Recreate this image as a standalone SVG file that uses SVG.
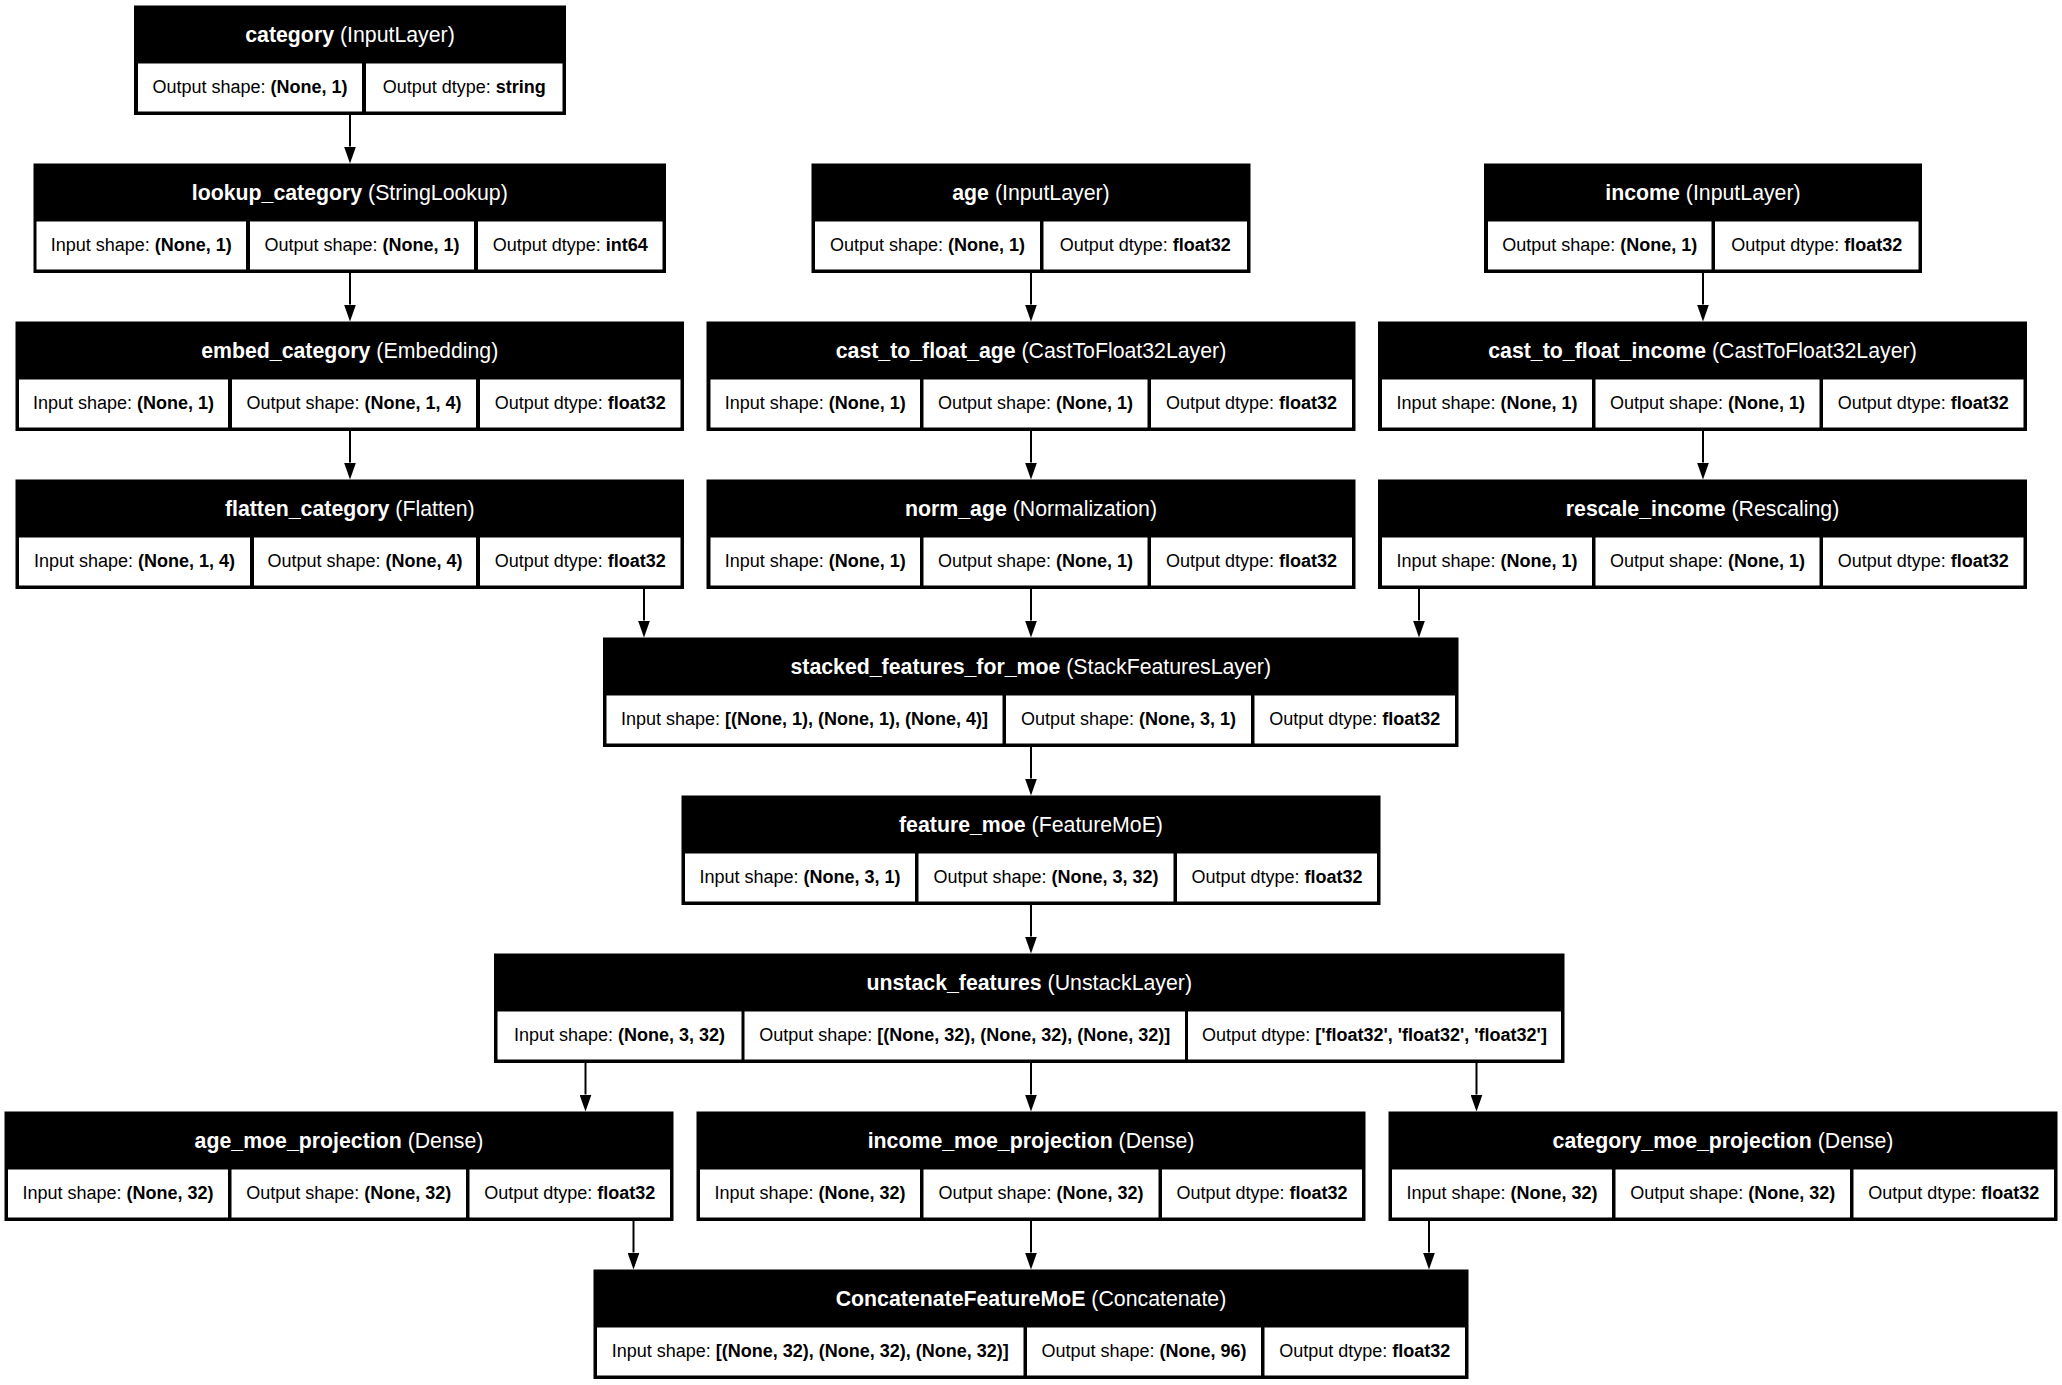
<svg xmlns="http://www.w3.org/2000/svg" width="2062" height="1385" viewBox="0 0 2062 1385">
<defs>
<style>
.bg{fill:#fff}
.box{fill:#000}
.cell{fill:#fff}
text{font-family:"Liberation Sans",Arial,Helvetica,sans-serif}
.t{font-size:21.3px;fill:#fff;text-anchor:middle}
.c{font-size:18px;fill:#000;text-anchor:middle}
.b{font-weight:bold}
.e{stroke:#000;stroke-width:2;fill:none;marker-end:url(#ah)}
</style>
<marker id="ah" viewBox="0 0 17 12" refX="0" refY="6" markerWidth="17" markerHeight="12" markerUnits="userSpaceOnUse" orient="auto">
<path d="M0,0 L17,6 L0,12 z" fill="#000"/>
</marker>
</defs>
<rect class="bg" x="0" y="0" width="2062" height="1385"/>

<g id="edges">
<line class="e" x1="350" y1="115" x2="350" y2="146.5"/>
<line class="e" x1="350" y1="273" x2="350" y2="304.5"/>
<line class="e" x1="350" y1="431" x2="350" y2="462.5"/>
<line class="e" x1="644" y1="589" x2="644" y2="620.5"/>
<line class="e" x1="1031" y1="273" x2="1031" y2="304.5"/>
<line class="e" x1="1031" y1="431" x2="1031" y2="462.5"/>
<line class="e" x1="1031" y1="589" x2="1031" y2="620.5"/>
<line class="e" x1="1703" y1="273" x2="1703" y2="304.5"/>
<line class="e" x1="1703" y1="431" x2="1703" y2="462.5"/>
<line class="e" x1="1419" y1="589" x2="1419" y2="620.5"/>
<line class="e" x1="1031" y1="747" x2="1031" y2="778.5"/>
<line class="e" x1="1031" y1="905" x2="1031" y2="936.5"/>
<line class="e" x1="585.5" y1="1063" x2="585.5" y2="1094.5"/>
<line class="e" x1="1031" y1="1063" x2="1031" y2="1094.5"/>
<line class="e" x1="1476.5" y1="1063" x2="1476.5" y2="1094.5"/>
<line class="e" x1="633.5" y1="1221" x2="633.5" y2="1252.5"/>
<line class="e" x1="1031" y1="1221" x2="1031" y2="1252.5"/>
<line class="e" x1="1429" y1="1221" x2="1429" y2="1252.5"/>
</g>

<g id="category">
<rect class="box" x="134" y="5.5" width="432" height="109.5"/>
<rect class="cell" x="138" y="63.5" width="224" height="48"/>
<rect class="cell" x="366" y="63.5" width="196.5" height="48"/>
<text class="t" x="350" y="41.5"><tspan class="b">category</tspan> (InputLayer)</text>
<text class="c" x="250" y="93">Output shape: <tspan class="b">(None, 1)</tspan></text>
<text class="c" x="464.25" y="93">Output dtype: <tspan class="b">string</tspan></text>
</g>

<g id="lookup_category">
<rect class="box" x="33.5" y="163.5" width="632.5" height="109.5"/>
<rect class="cell" x="36.5" y="221.5" width="209.5" height="48"/>
<rect class="cell" x="250" y="221.5" width="224" height="48"/>
<rect class="cell" x="478" y="221.5" width="184.5" height="48"/>
<text class="t" x="349.75" y="199.5"><tspan class="b">lookup_category</tspan> (StringLookup)</text>
<text class="c" x="141.25" y="251">Input shape: <tspan class="b">(None, 1)</tspan></text>
<text class="c" x="362" y="251">Output shape: <tspan class="b">(None, 1)</tspan></text>
<text class="c" x="570.25" y="251">Output dtype: <tspan class="b">int64</tspan></text>
</g>

<g id="age">
<rect class="box" x="811.5" y="163.5" width="439" height="109.5"/>
<rect class="cell" x="815" y="221.5" width="225" height="48"/>
<rect class="cell" x="1043.5" y="221.5" width="203.5" height="48"/>
<text class="t" x="1031" y="199.5"><tspan class="b">age</tspan> (InputLayer)</text>
<text class="c" x="927.5" y="251">Output shape: <tspan class="b">(None, 1)</tspan></text>
<text class="c" x="1145.25" y="251">Output dtype: <tspan class="b">float32</tspan></text>
</g>

<g id="income">
<rect class="box" x="1484" y="163.5" width="438" height="109.5"/>
<rect class="cell" x="1488" y="221.5" width="223.5" height="48"/>
<rect class="cell" x="1715" y="221.5" width="203.5" height="48"/>
<text class="t" x="1703" y="199.5"><tspan class="b">income</tspan> (InputLayer)</text>
<text class="c" x="1599.75" y="251">Output shape: <tspan class="b">(None, 1)</tspan></text>
<text class="c" x="1816.75" y="251">Output dtype: <tspan class="b">float32</tspan></text>
</g>

<g id="embed_category">
<rect class="box" x="15.5" y="321.5" width="668.5" height="109.5"/>
<rect class="cell" x="19" y="379.5" width="209" height="48"/>
<rect class="cell" x="232" y="379.5" width="244" height="48"/>
<rect class="cell" x="480" y="379.5" width="200.5" height="48"/>
<text class="t" x="349.75" y="357.5"><tspan class="b">embed_category</tspan> (Embedding)</text>
<text class="c" x="123.5" y="409">Input shape: <tspan class="b">(None, 1)</tspan></text>
<text class="c" x="354" y="409">Output shape: <tspan class="b">(None, 1, 4)</tspan></text>
<text class="c" x="580.25" y="409">Output dtype: <tspan class="b">float32</tspan></text>
</g>

<g id="cast_to_float_age">
<rect class="box" x="706.5" y="321.5" width="649" height="109.5"/>
<rect class="cell" x="710.5" y="379.5" width="209.5" height="48"/>
<rect class="cell" x="923.5" y="379.5" width="224" height="48"/>
<rect class="cell" x="1151" y="379.5" width="201" height="48"/>
<text class="t" x="1031" y="357.5"><tspan class="b">cast_to_float_age</tspan> (CastToFloat32Layer)</text>
<text class="c" x="815.25" y="409">Input shape: <tspan class="b">(None, 1)</tspan></text>
<text class="c" x="1035.5" y="409">Output shape: <tspan class="b">(None, 1)</tspan></text>
<text class="c" x="1251.5" y="409">Output dtype: <tspan class="b">float32</tspan></text>
</g>

<g id="cast_to_float_income">
<rect class="box" x="1378" y="321.5" width="649" height="109.5"/>
<rect class="cell" x="1382" y="379.5" width="210" height="48"/>
<rect class="cell" x="1595.5" y="379.5" width="224" height="48"/>
<rect class="cell" x="1823" y="379.5" width="200.5" height="48"/>
<text class="t" x="1702.5" y="357.5"><tspan class="b">cast_to_float_income</tspan> (CastToFloat32Layer)</text>
<text class="c" x="1487" y="409">Input shape: <tspan class="b">(None, 1)</tspan></text>
<text class="c" x="1707.5" y="409">Output shape: <tspan class="b">(None, 1)</tspan></text>
<text class="c" x="1923.25" y="409">Output dtype: <tspan class="b">float32</tspan></text>
</g>

<g id="flatten_category">
<rect class="box" x="15.5" y="479.5" width="668.5" height="109.5"/>
<rect class="cell" x="19" y="537.5" width="231" height="48"/>
<rect class="cell" x="254" y="537.5" width="222" height="48"/>
<rect class="cell" x="480" y="537.5" width="200.5" height="48"/>
<text class="t" x="349.75" y="515.5"><tspan class="b">flatten_category</tspan> (Flatten)</text>
<text class="c" x="134.5" y="567">Input shape: <tspan class="b">(None, 1, 4)</tspan></text>
<text class="c" x="365" y="567">Output shape: <tspan class="b">(None, 4)</tspan></text>
<text class="c" x="580.25" y="567">Output dtype: <tspan class="b">float32</tspan></text>
</g>

<g id="norm_age">
<rect class="box" x="706.5" y="479.5" width="649" height="109.5"/>
<rect class="cell" x="710.5" y="537.5" width="209.5" height="48"/>
<rect class="cell" x="923.5" y="537.5" width="224" height="48"/>
<rect class="cell" x="1151" y="537.5" width="201" height="48"/>
<text class="t" x="1031" y="515.5"><tspan class="b">norm_age</tspan> (Normalization)</text>
<text class="c" x="815.25" y="567">Input shape: <tspan class="b">(None, 1)</tspan></text>
<text class="c" x="1035.5" y="567">Output shape: <tspan class="b">(None, 1)</tspan></text>
<text class="c" x="1251.5" y="567">Output dtype: <tspan class="b">float32</tspan></text>
</g>

<g id="rescale_income">
<rect class="box" x="1378" y="479.5" width="649" height="109.5"/>
<rect class="cell" x="1382" y="537.5" width="210" height="48"/>
<rect class="cell" x="1595.5" y="537.5" width="224" height="48"/>
<rect class="cell" x="1823" y="537.5" width="200.5" height="48"/>
<text class="t" x="1702.5" y="515.5"><tspan class="b">rescale_income</tspan> (Rescaling)</text>
<text class="c" x="1487" y="567">Input shape: <tspan class="b">(None, 1)</tspan></text>
<text class="c" x="1707.5" y="567">Output shape: <tspan class="b">(None, 1)</tspan></text>
<text class="c" x="1923.25" y="567">Output dtype: <tspan class="b">float32</tspan></text>
</g>

<g id="stacked_features_for_moe">
<rect class="box" x="603" y="637.5" width="855.5" height="109.5"/>
<rect class="cell" x="606.5" y="695.5" width="396" height="48"/>
<rect class="cell" x="1006" y="695.5" width="245" height="48"/>
<rect class="cell" x="1254.5" y="695.5" width="200.5" height="48"/>
<text class="t" x="1030.75" y="673.5"><tspan class="b">stacked_features_for_moe</tspan> (StackFeaturesLayer)</text>
<text class="c" x="804.5" y="725">Input shape: <tspan class="b">[(None, 1), (None, 1), (None, 4)]</tspan></text>
<text class="c" x="1128.5" y="725">Output shape: <tspan class="b">(None, 3, 1)</tspan></text>
<text class="c" x="1354.75" y="725">Output dtype: <tspan class="b">float32</tspan></text>
</g>

<g id="feature_moe">
<rect class="box" x="681.5" y="795.5" width="699" height="109.5"/>
<rect class="cell" x="685" y="853.5" width="230" height="48"/>
<rect class="cell" x="918.5" y="853.5" width="255" height="48"/>
<rect class="cell" x="1177" y="853.5" width="200" height="48"/>
<text class="t" x="1031" y="831.5"><tspan class="b">feature_moe</tspan> (FeatureMoE)</text>
<text class="c" x="800" y="883">Input shape: <tspan class="b">(None, 3, 1)</tspan></text>
<text class="c" x="1046" y="883">Output shape: <tspan class="b">(None, 3, 32)</tspan></text>
<text class="c" x="1277" y="883">Output dtype: <tspan class="b">float32</tspan></text>
</g>

<g id="unstack_features">
<rect class="box" x="494" y="953.5" width="1070.5" height="109.5"/>
<rect class="cell" x="497.5" y="1011.5" width="244" height="48"/>
<rect class="cell" x="744.5" y="1011.5" width="440.5" height="48"/>
<rect class="cell" x="1188" y="1011.5" width="373" height="48"/>
<text class="t" x="1029.25" y="989.5"><tspan class="b">unstack_features</tspan> (UnstackLayer)</text>
<text class="c" x="619.5" y="1041">Input shape: <tspan class="b">(None, 3, 32)</tspan></text>
<text class="c" x="964.75" y="1041">Output shape: <tspan class="b">[(None, 32), (None, 32), (None, 32)]</tspan></text>
<text class="c" x="1374.5" y="1041">Output dtype: <tspan class="b">['float32', 'float32', 'float32']</tspan></text>
</g>

<g id="age_moe_projection">
<rect class="box" x="4.5" y="1111.5" width="669" height="109.5"/>
<rect class="cell" x="8" y="1169.5" width="220" height="48"/>
<rect class="cell" x="231.5" y="1169.5" width="234.5" height="48"/>
<rect class="cell" x="469.5" y="1169.5" width="200.5" height="48"/>
<text class="t" x="339" y="1147.5"><tspan class="b">age_moe_projection</tspan> (Dense)</text>
<text class="c" x="118" y="1199">Input shape: <tspan class="b">(None, 32)</tspan></text>
<text class="c" x="348.75" y="1199">Output shape: <tspan class="b">(None, 32)</tspan></text>
<text class="c" x="569.75" y="1199">Output dtype: <tspan class="b">float32</tspan></text>
</g>

<g id="income_moe_projection">
<rect class="box" x="696.5" y="1111.5" width="669" height="109.5"/>
<rect class="cell" x="700" y="1169.5" width="220" height="48"/>
<rect class="cell" x="923.5" y="1169.5" width="235" height="48"/>
<rect class="cell" x="1162" y="1169.5" width="200" height="48"/>
<text class="t" x="1031" y="1147.5"><tspan class="b">income_moe_projection</tspan> (Dense)</text>
<text class="c" x="810" y="1199">Input shape: <tspan class="b">(None, 32)</tspan></text>
<text class="c" x="1041" y="1199">Output shape: <tspan class="b">(None, 32)</tspan></text>
<text class="c" x="1262" y="1199">Output dtype: <tspan class="b">float32</tspan></text>
</g>

<g id="category_moe_projection">
<rect class="box" x="1388.5" y="1111.5" width="669" height="109.5"/>
<rect class="cell" x="1392" y="1169.5" width="220" height="48"/>
<rect class="cell" x="1615.5" y="1169.5" width="234.5" height="48"/>
<rect class="cell" x="1853.5" y="1169.5" width="200.5" height="48"/>
<text class="t" x="1723" y="1147.5"><tspan class="b">category_moe_projection</tspan> (Dense)</text>
<text class="c" x="1502" y="1199">Input shape: <tspan class="b">(None, 32)</tspan></text>
<text class="c" x="1732.75" y="1199">Output shape: <tspan class="b">(None, 32)</tspan></text>
<text class="c" x="1953.75" y="1199">Output dtype: <tspan class="b">float32</tspan></text>
</g>

<g id="ConcatenateFeatureMoE">
<rect class="box" x="593.5" y="1269.5" width="875" height="109.5"/>
<rect class="cell" x="597" y="1327.5" width="426.5" height="48"/>
<rect class="cell" x="1027" y="1327.5" width="234" height="48"/>
<rect class="cell" x="1264.5" y="1327.5" width="200.5" height="48"/>
<text class="t" x="1031" y="1305.5"><tspan class="b">ConcatenateFeatureMoE</tspan> (Concatenate)</text>
<text class="c" x="810.25" y="1357">Input shape: <tspan class="b">[(None, 32), (None, 32), (None, 32)]</tspan></text>
<text class="c" x="1144" y="1357">Output shape: <tspan class="b">(None, 96)</tspan></text>
<text class="c" x="1364.75" y="1357">Output dtype: <tspan class="b">float32</tspan></text>
</g>
</svg>
